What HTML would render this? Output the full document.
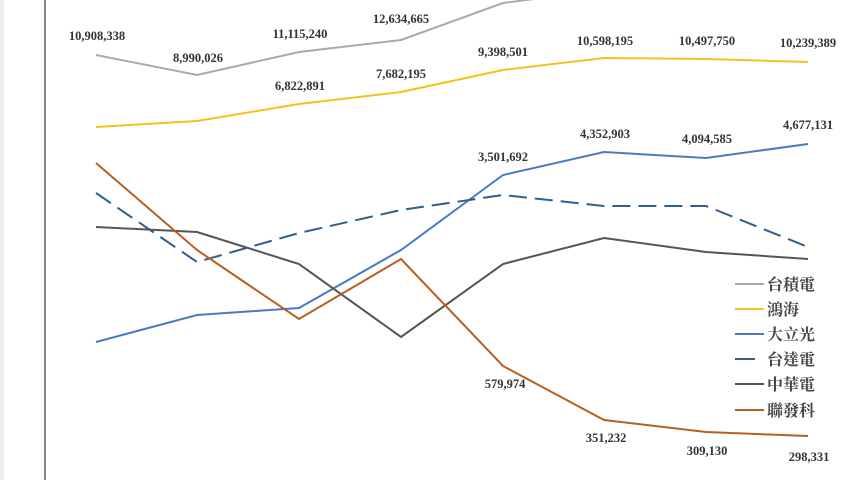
<!DOCTYPE html>
<html><head><meta charset="utf-8"><style>
body{margin:0;width:860px;height:480px;overflow:hidden;background:#fff}
text{font-family:"Liberation Serif","Noto Serif CJK SC",serif;font-size:12.5px;font-weight:bold;fill:#333;text-anchor:middle}
.lg{font-family:"Liberation Serif","Noto Serif CJK TC",serif;font-size:16px;font-weight:bold;text-anchor:start;fill:#444}
</style></head><body>
<svg width="860" height="480" xmlns="http://www.w3.org/2000/svg">
<rect x="0" y="0" width="4" height="480" fill="#eee"/>
<line x1="45" y1="0" x2="45" y2="480" stroke="#888" stroke-width="2"/>
<g fill="none" stroke-width="2">
<polyline stroke="#aaa" points="96,55 197,75 299,52 401,40 503,3 604,-10 706,-10 808,-10"/>
<polyline stroke="#f5c01a" points="96,127 197,121 299,104 401,92 503,70 604,58 706,59 808,62"/>
<polyline stroke="#4a78c8" points="96,342 197,315 299,308 401,250 503,175 604,152 706,158 808,144"/>
<polyline stroke="#2f5f8f" stroke-dasharray="18,8" points="96,193 197,262 299,233 401,210 503,195 604,206 706,206 808,247"/>
<polyline stroke="#555" points="96,227 197,232 299,264 401,337 503,264 604,238 706,252 808,259"/>
<polyline stroke="#b85f20" points="96,163 197,250 299,319 401,259 503,366 604,420 706,432 808,436"/>
</g>
<text x="97" y="40">10,908,338</text>
<text x="198" y="62">8,990,026</text>
<text x="300" y="38">11,115,240</text>
<text x="401" y="23">12,634,665</text>
<text x="300" y="90">6,822,891</text>
<text x="401" y="78">7,682,195</text>
<text x="503" y="56">9,398,501</text>
<text x="605" y="45">10,598,195</text>
<text x="707" y="45">10,497,750</text>
<text x="808" y="47">10,239,389</text>
<text x="503" y="161">3,501,692</text>
<text x="605" y="138">4,352,903</text>
<text x="707" y="143">4,094,585</text>
<text x="808" y="129">4,677,131</text>
<text x="505" y="388">579,974</text>
<text x="606" y="442">351,232</text>
<text x="707" y="455">309,130</text>
<text x="809" y="461">298,331</text>
<g stroke-width="2">
<line x1="735" y1="284" x2="764" y2="284" stroke="#aaa"/>
<line x1="735" y1="309" x2="764" y2="309" stroke="#f5c01a"/>
<line x1="735" y1="334" x2="764" y2="334" stroke="#4a78c8"/>
<line x1="735" y1="359" x2="755" y2="359" stroke="#2f5f8f"/>
<line x1="735" y1="384" x2="764" y2="384" stroke="#555"/>
<line x1="735" y1="410" x2="764" y2="410" stroke="#b85f20"/>
</g>
<text class="lg" x="767" y="290">台積電</text>
<text class="lg" x="767" y="315">鴻海</text>
<text class="lg" x="767" y="340">大立光</text>
<text class="lg" x="767" y="365">台達電</text>
<text class="lg" x="767" y="390">中華電</text>
<text class="lg" x="767" y="416">聯發科</text>
</svg>
</body></html>
